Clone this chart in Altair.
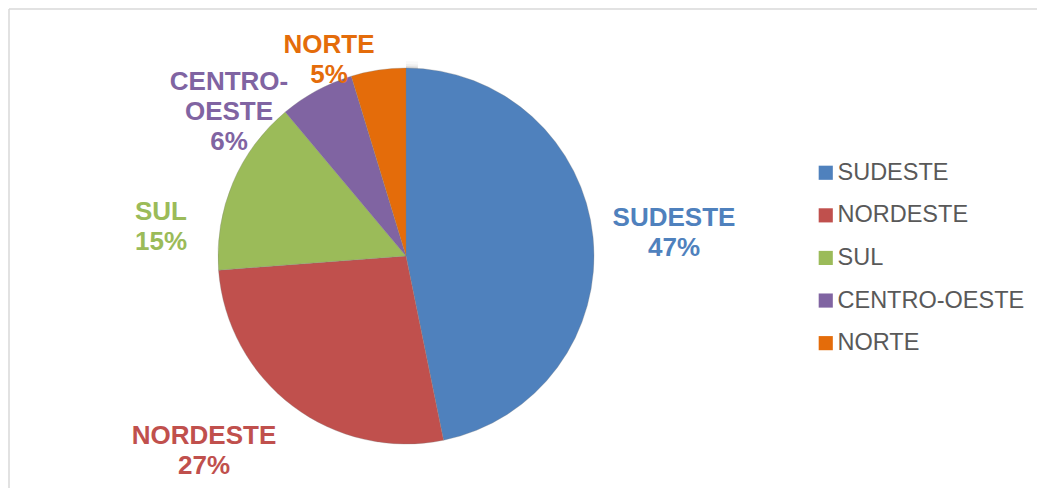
import altair as alt
import pandas as pd

# ---- data ----
regions = ["SUDESTE", "NORDESTE", "SUL", "CENTRO-OESTE", "NORTE"]
shares = [46.8, 27.0, 15.1, 6.4, 4.7]
label_names = ["SUDESTE", "NORDESTE", "SUL", "CENTRO-\nOESTE", "NORTE"]
colors = ["#4F81BD", "#C0504D", "#9BBB59", "#8064A2", "#E46C0A"]

# ---- layout (first-line anchor points of labels, chart pixels) ----
label_x = [666, 196, 153, 221, 321]
label_y = [210, 428, 204, 74, 37]

total = sum(shares)
df = pd.DataFrame({"region": regions, "share": shares, "order": list(range(len(regions)))})
lab = pd.DataFrame({
    "text": [f"{n}\n{round(v / total * 100)}%" for n, v in zip(label_names, shares)],
    "lx": label_x,
    "ly": label_y,
    "col": colors,
})

CX, CY, R = 398, 248, 188
FONT = "Liberation Sans"

shadow_layers = []
for rad, op in [(196, 0.025), (193, 0.04), (191, 0.06), (189.5, 0.08)]:
    shadow_layers.append(
        alt.Chart(pd.DataFrame({"v": [1]})).mark_arc(radius=rad, color="#000000", opacity=op).encode(
            theta=alt.Theta("v:Q"), x=alt.value(CX), y=alt.value(CY + 1)
        )
    )

pie = alt.Chart(df).mark_arc(radius=R, stroke="#7f7f7f", strokeWidth=0.3).encode(
    theta=alt.Theta("share:Q", stack=True),
    order=alt.Order("order:Q"),
    color=alt.Color(
        "region:N",
        scale=alt.Scale(domain=regions, range=colors),
        sort=regions,
        legend=alt.Legend(
            title=None,
            orient="none",
            legendX=806,
            legendY=153,
            symbolType="square",
            symbolSize=200,
            symbolStrokeWidth=0,
            labelFont=FONT,
            labelFontSize=23.5,
            labelColor="#595959",
            labelOffset=0,
            rowPadding=17.6,
            labelLimit=400,
        ),
    ),
    x=alt.value(CX),
    y=alt.value(CY),
)

labels = alt.Chart(lab).mark_text(
    font=FONT, fontSize=26, fontWeight="bold", lineBreak="\n", lineHeight=30,
    align="center", baseline="middle",
).encode(
    x=alt.X("lx:Q", scale=None),
    y=alt.Y("ly:Q", scale=None),
    text="text:N",
    color=alt.Color("col:N", scale=None),
)

one = pd.DataFrame({"a": [0]})
top_rule = alt.Chart(one).mark_rule(color="#D9D9D9", strokeWidth=1.5).encode(
    x=alt.value(1), x2=alt.value(1029), y=alt.value(1)
)
left_rule = alt.Chart(one).mark_rule(color="#D9D9D9", strokeWidth=1.5).encode(
    x=alt.value(1), y=alt.value(1), y2=alt.value(484)
)

chart = alt.layer(*shadow_layers, pie, labels, top_rule, left_rule).properties(
    width=1029, height=480, padding=0, autosize=alt.AutoSizeParams(type="none"),
    background="white",
).configure_view(stroke=None)

chart.save("out.html", embed_options={"renderer": "svg", "actions": False})
